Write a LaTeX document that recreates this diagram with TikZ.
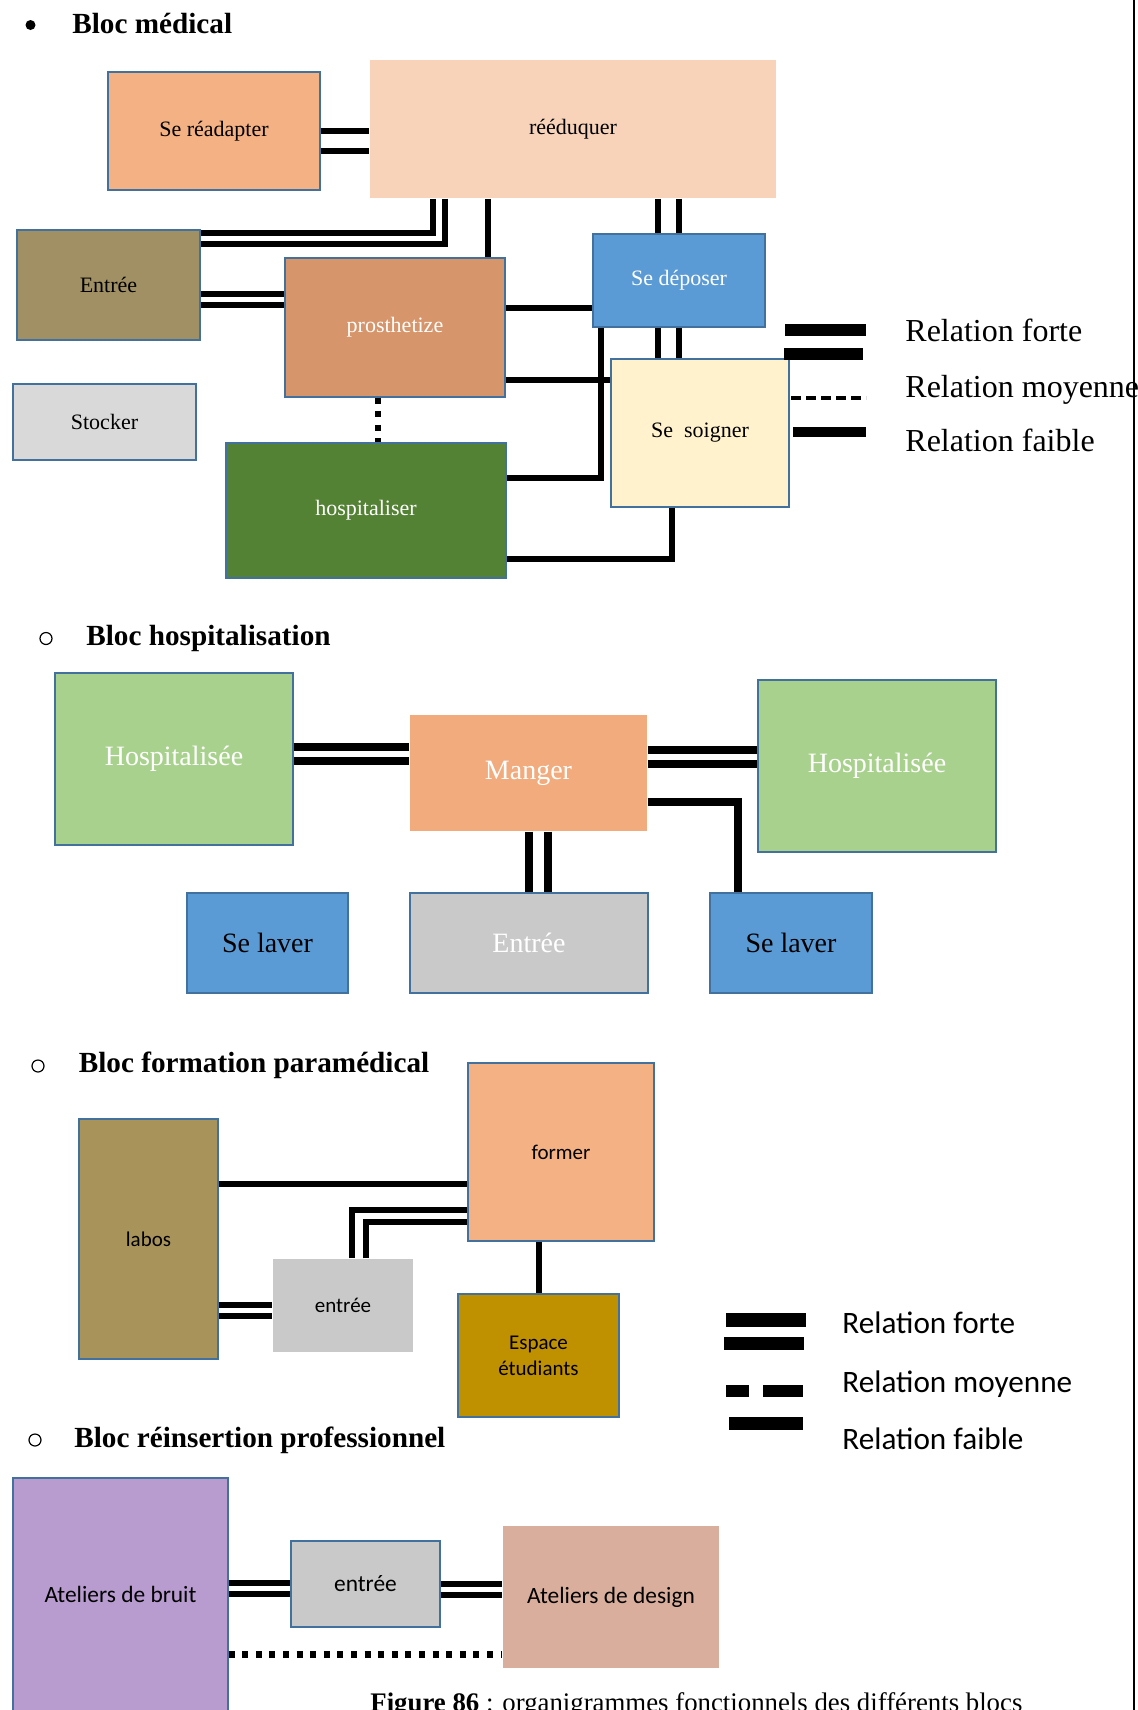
\documentclass[tikz,border=0pt]{standalone}
\usepackage{fontspec}
\setmainfont{Liberation Serif}
\newfontfamily\calibri{Carlito}
\usepackage{xcolor}
\definecolor{boxline}{HTML}{41719C}
\definecolor{apricot}{HTML}{F4B183}
\definecolor{peach}{HTML}{F8D3B9}
\definecolor{khaki}{HTML}{A09064}
\definecolor{copper}{HTML}{D6956A}
\definecolor{sky}{HTML}{5B9BD5}
\definecolor{silver}{HTML}{D9D9D9}
\definecolor{forest}{HTML}{548235}
\definecolor{cream}{HTML}{FFF2CC}
\definecolor{leaf}{HTML}{A9D18E}
\definecolor{melon}{HTML}{F1AB7C}
\definecolor{ash}{HTML}{C9C9C9}
\definecolor{ochre}{HTML}{A8935A}
\definecolor{mustard}{HTML}{BF9000}
\definecolor{lilac}{HTML}{B89CD0}
\definecolor{rosewood}{HTML}{D9AE9C}
\usepackage{tikz}
\tikzset{
  box/.style={draw=boxline,line width=0.6pt,inner sep=0pt,align=center},
  medbox/.style={box,font=\fontsize{11}{13}\selectfont},
  hosbox/.style={box,font=\fontsize{14}{17}\selectfont},
  forbox/.style={box,font=\calibri\fontsize{10.5}{13}\selectfont},
  reibox/.style={box,font=\calibri\fontsize{11.7}{14}\selectfont},
  tie/.style={line width=3pt},
  tiedot/.style={line width=3.2pt,dash pattern=on 3pt off 3.8pt},
  blochead/.style={anchor=base west,inner sep=0pt,font=\bfseries\fontsize{14.6}{17}\selectfont},
  bulfill/.style={circle,fill=black,inner sep=0pt,minimum size=5pt},
  bulopen/.style={circle,draw=black,line width=0.6pt,inner sep=0pt,minimum size=6pt},
  legserif/.style={anchor=base west,inner sep=0pt,font=\fontsize{16}{19}\selectfont},
  legsans/.style={anchor=base west,inner sep=0pt,font=\calibri\fontsize{15.6}{19}\selectfont},
}

\begin{document}
\begin{tikzpicture}[x=0.5pt,y=-0.5pt]
  \fill[white] (0,0) rectangle (1137,1710);
  \useasboundingbox (0,0) rectangle (1137,1710);

  % bloc medical
  \node[bulfill] (b1) at (30.5,25) {};
  \node[blochead] (h1) at (72,33) {Bloc médical};
  \node[medbox,fill=apricot,minimum width=106pt,minimum height=59pt] (reada) at (214,131) {Se réadapter};
  \node[medbox,fill=peach,draw=none,minimum width=203pt,minimum height=69pt] (reedu) at (573,129) {rééduquer};
  \node[medbox,fill=khaki,minimum width=91.5pt,minimum height=55pt] (entmed) at (108.5,285) {Entrée};
  \node[medbox,fill=copper,text=white,minimum width=110pt,minimum height=69.5pt] (prost) at (395,327.5) {prosthetize};
  \node[medbox,fill=sky,text=white,minimum width=86pt,minimum height=46.5pt] (depos) at (679,280.5) {Se déposer};
  \node[medbox,fill=silver,minimum width=91.5pt,minimum height=38pt] (stock) at (104.5,422) {Stocker};
  \node[medbox,fill=forest,text=white,minimum width=140pt,minimum height=67.5pt] (hospi) at (366,510.5) {hospitaliser};
  \node[medbox,fill=cream,minimum width=89pt,minimum height=74pt] (soign) at (700,433) {Se~ soigner};

  \draw[tie] (reada.east |- 0,131) -- (reedu.west |- 0,131);
  \draw[tie] (reada.east |- 0,151) -- (reedu.west |- 0,151);
  \draw[tie] (reedu.south -| 433,0) |- (entmed.east |- 0,233);
  \draw[tie] (reedu.south -| 445,0) |- (entmed.east |- 0,244);
  \draw[tie] (reedu.south -| 488,0) -- (prost.north -| 488,0);
  \draw[tie] (reedu.south -| 658,0) -- (depos.north -| 658,0);
  \draw[tie] (reedu.south -| 679,0) -- (depos.north -| 679,0);
  \draw[tie] (entmed.east |- 0,294) -- (prost.west |- 0,294);
  \draw[tie] (entmed.east |- 0,305) -- (prost.west |- 0,305);
  \draw[tie] (prost.east |- 0,308) -- (depos.west |- 0,308);
  \draw[tie] (depos.south -| 658,0) -- (soign.north -| 658,0);
  \draw[tie] (depos.south -| 679,0) -- (soign.north -| 679,0);
  \draw[tie] (prost.east |- 0,380) -- (soign.west |- 0,380);
  \draw[tie] (depos.south -| 601,0) |- (hospi.east |- 0,478);
  \draw[tie] (soign.south -| 672,0) |- (hospi.east |- 0,559);
  \draw[tiedot] (prost.south -| 378,0) -- (hospi.north -| 378,0);

  % legende (serif)
  \draw[line width=6pt] (785,330) -- (866,330);
  \draw[line width=6pt] (784,353.5) -- (863,353.5);
  \draw[line width=2pt,dash pattern=on 5pt off 2.5pt] (791,398) -- (866,398);
  \draw[line width=5pt] (793,432) -- (866,432);
  \node[legserif] (lf1) at (905,341) {Relation forte};
  \node[legserif] (lm1) at (905,397) {Relation moyenne};
  \node[legserif] (lw1) at (905,451) {Relation faible};

  % bloc hospitalisation
  \node[bulopen] (b2) at (46,638.5) {};
  \node[blochead] (h2) at (86,645) {Bloc hospitalisation};
  \node[hosbox,fill=leaf,text=white,minimum width=119pt,minimum height=86pt] (hospl) at (174,759) {Hospitalisée};
  \node[hosbox,fill=melon,text=white,draw=none,minimum width=118.5pt,minimum height=58pt] (mang) at (528.5,773) {Manger};
  \node[hosbox,fill=leaf,text=white,minimum width=119pt,minimum height=86pt] (hospr) at (877,766) {Hospitalisée};
  \node[hosbox,fill=sky,minimum width=80.5pt,minimum height=50pt] (lavl) at (267.5,943) {Se laver};
  \node[hosbox,fill=ash,text=white,minimum width=119pt,minimum height=50pt] (enth) at (529,943) {Entrée};
  \node[hosbox,fill=sky,minimum width=81pt,minimum height=50pt] (lavr) at (791,943) {Se laver};

  \draw[tie,line width=4.2pt] (hospl.east |- 0,747) -- (mang.west |- 0,747);
  \draw[tie,line width=4.2pt] (hospl.east |- 0,761) -- (mang.west |- 0,761);
  \draw[tie,line width=4.2pt] (mang.east |- 0,750) -- (hospr.west |- 0,750);
  \draw[tie,line width=4.2pt] (mang.east |- 0,764) -- (hospr.west |- 0,764);
  \draw[tie,line width=4.2pt] (mang.south -| 529,0) -- (enth.north -| 529,0);
  \draw[tie,line width=4.2pt] (mang.south -| 548,0) -- (enth.north -| 548,0);
  \draw[tie,line width=4.2pt] (mang.east |- 0,802) -| (lavr.north -| 738,0);

  % bloc formation
  \node[bulopen] (b3) at (38,1066) {};
  \node[blochead] (h3) at (78.5,1072) {Bloc formation paramédical};
  \node[forbox,fill=ochre,minimum width=69.5pt,minimum height=120pt] (labos) at (148.5,1239) {labos};
  \node[forbox,fill=apricot,minimum width=93pt,minimum height=89pt] (form) at (561,1152) {former};
  \node[forbox,fill=ash,draw=none,minimum width=70pt,minimum height=46.5pt] (entf) at (343,1305.5) {entrée};
  \node[forbox,fill=mustard,minimum width=80.5pt,minimum height=61.5pt] (espace) at (538.5,1355.5) {Espace\\étudiants};

  \draw[tie,line width=2.7pt] (labos.east |- 0,1184) -- (form.west |- 0,1184);
  \draw[tie,line width=2.7pt] (entf.north -| 352,0) |- (form.west |- 0,1210);
  \draw[tie,line width=2.7pt] (entf.north -| 366,0) |- (form.west |- 0,1222);
  \draw[tie,line width=2.7pt] (labos.east |- 0,1305) -- (entf.west |- 0,1305);
  \draw[tie,line width=2.7pt] (labos.east |- 0,1316) -- (entf.west |- 0,1316);
  \draw[tie,line width=2.7pt] (form.south -| 539,0) -- (espace.north -| 539,0);

  % legende (sans)
  \draw[line width=7pt] (726,1320) -- (806,1320);
  \draw[line width=6.5pt] (724,1343.5) -- (804,1343.5);
  \draw[line width=6pt,dash pattern=on 11.5pt off 7pt on 20pt off 10pt] (726,1391) -- (803,1391);
  \draw[line width=6.5pt] (729,1423.5) -- (803,1423.5);
  \node[legsans] (lf2) at (842,1333) {Relation forte};
  \node[legsans] (lm2) at (842,1392) {Relation moyenne};
  \node[legsans] (lw2) at (842,1449) {Relation faible};

  % bloc reinsertion
  \node[bulopen] (b4) at (35,1440) {};
  \node[blochead] (h4) at (74,1447) {Bloc réinsertion professionnel};
  \node[reibox,fill=lilac,minimum width=107.5pt,minimum height=116.5pt] (bruit) at (120.5,1594.5) {Ateliers de bruit};
  \node[reibox,fill=ash,minimum width=74.5pt,minimum height=43pt] (entr) at (365.5,1584) {entrée};
  \node[reibox,fill=rosewood,draw=none,minimum width=108pt,minimum height=71pt] (design) at (611,1597) {Ateliers de design};

  \draw[tie,line width=3.3pt] (bruit.east |- 0,1583) -- (entr.west |- 0,1583);
  \draw[tie,line width=3.3pt] (bruit.east |- 0,1594) -- (entr.west |- 0,1594);
  \draw[tie,line width=3.3pt] (entr.east |- 0,1584) -- (design.west |- 0,1584);
  \draw[tie,line width=3.3pt] (entr.east |- 0,1595) -- (design.west |- 0,1595);
  \draw[tiedot,line width=3.5pt] (bruit.east |- 0,1654) -- (design.west |- 0,1654);

  \node[anchor=base west,inner sep=0pt,font=\fontsize{13.4}{16}\selectfont] (caption) at (370,1711)
    {\textbf{Figure 86} : organigrammes fonctionnels des différents blocs};

  % trait de marge
  \draw[line width=1.2pt] (1134,0) -- (1134,1710);
\end{tikzpicture}
\end{document}
